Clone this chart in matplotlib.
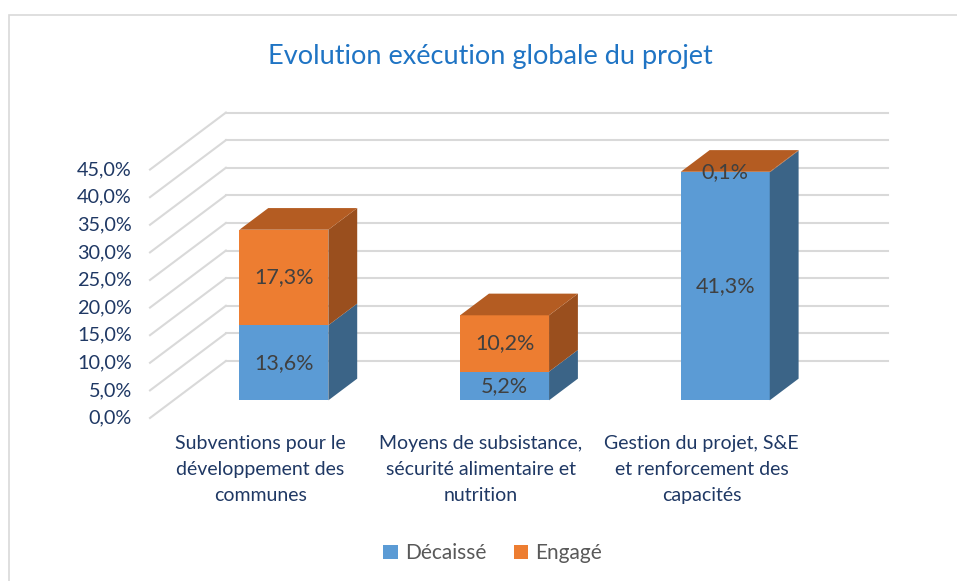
import matplotlib.pyplot as plt
from matplotlib.patches import Polygon, Rectangle, Patch

plt.rcParams['font.family'] = ['Lato', 'DejaVu Sans']

# chart data
categories = ["Subventions pour le\ndéveloppement des\ncommunes",
              "Moyens de subsistance,\nsécurité alimentaire et\nnutrition",
              "Gestion du projet, S&E\net renforcement des\ncapacités"]
decaisse = [13.6, 5.2, 41.3]
engage = [17.3, 10.2, 0.1]
series_names = ["Décaissé", "Engagé"]
yticks = [0, 5, 10, 15, 20, 25, 30, 35, 40, 45]
title = "Evolution exécution globale du projet"

# colours: front, side, top for each series
blue = ('#5B9BD5', '#3B6487', '#4A80B3')
orange = ('#ED7D31', '#9A4F1E', '#B45C22')
grid_color = '#D9D9D9'
text_navy = '#1F3864'

# fake 3D geometry (depth offset in data units)
DX = 0.344
DY = 10.33
D0, D1 = 0.31, 0.69
HALF = 0.2015


def proj(x, v, d):
    """ shift a front-plane point back by depth fraction d """
    return (x + d * DX, v + d * DY)


def fmt(v):
    return f"{v:.1f}".replace('.', ',') + '%'


def draw_segment(ax, c, lo, hi, cols, top=False):
    x0, x1 = c - HALF, c + HALF
    front = [proj(x0, lo, D0), proj(x1, lo, D0), proj(x1, hi, D0), proj(x0, hi, D0)]
    side = [proj(x1, lo, D0), proj(x1, lo, D1), proj(x1, hi, D1), proj(x1, hi, D0)]
    ax.add_patch(Polygon(front, closed=True, facecolor=cols[0], edgecolor='none', zorder=3))
    ax.add_patch(Polygon(side, closed=True, facecolor=cols[1], edgecolor='none', zorder=3))
    if top:
        lid = [proj(x0, hi, D0), proj(x1, hi, D0), proj(x1, hi, D1), proj(x0, hi, D1)]
        ax.add_patch(Polygon(lid, closed=True, facecolor=cols[2], edgecolor='none', zorder=3))


fig = plt.figure(figsize=(9.57, 5.81), dpi=100)
ax = fig.add_axes([0, 0, 1, 1])
ax.set_xlim(-1.1797, 3.1566)
ax.set_ylim(-29.53, 75.72)
ax.axis('off')

n = len(categories)
xs = list(range(n))

# walls: back wall gridlines and left side diagonals
for v in yticks:
    bx0, by = proj(-0.5, v, 1)
    bx1, _ = proj(n - 0.5, v, 1)
    ax.plot([bx0, bx1], [by, by], color=grid_color, lw=1.5, zorder=1)
    fx, fy = proj(-0.5, v, 0)
    ax.plot([fx, bx0], [fy, by], color=grid_color, lw=1.5, zorder=1)
    ax.annotate(fmt(v), xy=(-0.5, v), xytext=(-13, 0), textcoords='offset points',
                ha='right', va='center', fontsize=14.3, color=text_navy)

# stacked bars
for c, d, e in zip(xs, decaisse, engage):
    draw_segment(ax, c, 0, d, blue)
    draw_segment(ax, c, d, d + e, orange, top=True)
    lx, ly = proj(c, d / 2, D0)
    ax.text(lx, ly, fmt(d), ha='center', va='center', fontsize=15.5, color='#404040', zorder=4)
    lx, ly = proj(c, d + e / 2, D0)
    ax.text(lx, ly, fmt(e), ha='center', va='center', fontsize=15.5, color='#404040', zorder=4)

# category labels
for c, lab in zip(xs, categories):
    ax.annotate(lab, xy=(c, 0), xytext=(0, -12.5), textcoords='offset points',
                ha='center', va='top', fontsize=14, color=text_navy, linespacing=1.62)

fig.text(0.512, 0.903, title, ha='center', va='center', fontsize=19.5, color='#1F74C4')

handles = [Patch(facecolor=blue[0]), Patch(facecolor=orange[0])]
fig.legend(handles, series_names, loc='center', bbox_to_anchor=(0.515, 0.048), ncol=2,
           frameon=False, handlelength=0.7, handleheight=0.7, handletextpad=0.35,
           columnspacing=1.3, fontsize=15, labelcolor='#595959')

fig.patches.append(Rectangle((9 / 957, -0.05), 1.0, 0.9742 + 0.05, fill=False,
                             edgecolor=grid_color, lw=1.2, transform=fig.transFigure))

fig.savefig('out.png', dpi=100)
